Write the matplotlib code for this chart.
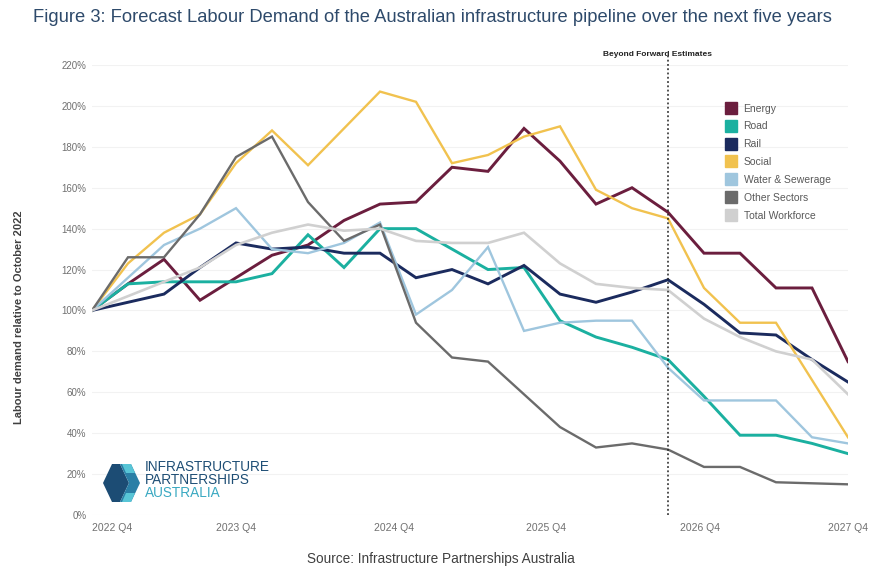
import matplotlib.pyplot as plt
import numpy as np
from matplotlib.lines import Line2D
from matplotlib.patches import Polygon

plt.rcParams['font.family'] = ['Liberation Sans', 'DejaVu Sans']

# quarterly points, 2022 Q4 .. 2027 Q4 (22 points as drawn in the source)
quarters = np.arange(22)

energy = [100, 113, 125, 105, 116, 127, 132, 144, 152, 153, 170, 168,
          189, 173, 152, 160, 148, 128, 128, 111, 111, 75]
road = [100, 113, 114, 114, 114, 118, 137, 121, 140, 140, 130, 120,
        121, 95, 87, 82, 76, 58, 39, 39, 35, 30]
rail = [100, 104, 108, 121, 133, 130, 131, 128, 128, 116, 120, 113,
        122, 108, 104, 109, 115, 103, 89, 88, 76, 65]
social = [100, 123, 138, 147, 172, 188, 171, 189, 207, 202, 172, 176,
          185, 190, 159, 150, 145, 111, 94, 94, 66, 38]
water = [100, 116, 132, 140, 150, 130, 128, 133, 143, 98, 110, 131,
         90, 94, 95, 95, 72, 56, 56, 56, 38, 35]
other = [100, 126, 126, 147, 175, 185, 153, 134, 142, 94, 77, 75,
         59, 43, 33, 35, 32, 23.5, 23.5, 16, 15.5, 15]
total = [100, 107, 114, 121, 132, 138, 142, 139, 140, 134, 133, 133,
         138, 123, 113, 111, 110, 96, 87, 80, 76, 59]

series_names = ['Energy', 'Road', 'Rail', 'Social', 'Water & Sewerage',
                'Other Sectors', 'Total Workforce']
series_data = [energy, road, rail, social, water, other, total]
series_colors = ['#6B1E3E', '#1BB0A0', '#1B2B5E', '#F1C24F', '#9FC6DE',
                 '#6B6B6B', '#D0D0D0']
series_widths = [2.1, 2.1, 2.1, 1.7, 1.7, 1.7, 1.9]

tick_pos = [0, 4.0, 8.4, 12.6, 16.9, 21]
tick_labels = ['2022 Q4', '2023 Q4', '2024 Q4', '2025 Q4', '2026 Q4', '2027 Q4']
forward_limit = 16

W, H = 872, 569
fig = plt.figure(figsize=(W / 100, H / 100), dpi=100)
fig.set_facecolor('white')

ax = fig.add_axes([92 / W, 1 - 515 / H, 756 / W, 450 / H])
ax.set_xlim(0, 21)
ax.set_ylim(0, 220)

draw_order = [6, 4, 5, 3, 1, 2, 0]
for i in draw_order:
    ax.plot(quarters, series_data[i], color=series_colors[i],
            lw=series_widths[i], solid_joinstyle='miter', zorder=2 + i * 0.01)

ax.axvline(forward_limit, ymin=0, ymax=1.02, color='#222222', lw=1.1,
           ls=(0, (1.2, 1.6)), clip_on=False, zorder=3)
ax.text(forward_limit - 0.3, 223.5, 'Beyond Forward Estimates', ha='center',
        va='bottom', fontsize=6, fontweight='bold', color='#222222')

ax.set_yticks(np.arange(0, 221, 20))
ax.set_yticklabels([f'{v}%' for v in range(0, 221, 20)])
ax.set_xticks(tick_pos)
ax.set_xticklabels(tick_labels)
ax.get_xticklabels()[0].set_ha('left')
ax.tick_params(axis='y', length=0, labelsize=7, labelcolor='#707070', pad=4)
ax.tick_params(axis='x', length=0, labelsize=7.5, labelcolor='#707070', pad=6)
ax.grid(axis='y', color='#F2F2F2', lw=0.8)
ax.set_axisbelow(True)
for s in ax.spines.values():
    s.set_visible(False)

ax.set_ylabel('Labour demand relative to October 2022', fontsize=8,
              fontweight='bold', color='#404040')
ax.yaxis.set_label_coords(-0.09, 0.44)

handles = [Line2D([], [], ls='none', marker='s', markersize=9,
                  markerfacecolor=c, markeredgecolor=c) for c in series_colors]
ax.legend(handles, series_names, loc='upper left',
          bbox_to_anchor=(0.826, 0.935), frameon=False, fontsize=7.5,
          labelcolor='#595959', labelspacing=0.75, handletextpad=0.7,
          handlelength=1.0)

fig.text(33 / W, 1 - 18 / H,
         'Figure 3: Forecast Labour Demand of the Australian infrastructure '
         'pipeline over the next five years',
         ha='left', va='center', fontsize=13.2, color='#2E4A6B')
fig.text(441 / W, 1 - 559 / H, 'Source: Infrastructure Partnerships Australia',
         ha='center', va='center', fontsize=9.8, color='#404040')

# logo overlay in pixel coordinates
lg = fig.add_axes([0, 0, 1, 1], facecolor='none')
lg.set_xlim(0, W)
lg.set_ylim(H, 0)
lg.axis('off')
lg.add_patch(Polygon([(103, 483), (112, 464), (120, 464), (129, 483),
                      (120, 502), (112, 502)], closed=True,
                     color='#1C4C74', lw=0))
lg.add_patch(Polygon([(120, 464), (131, 464), (140, 483), (131, 502),
                      (120, 502), (129, 483)], closed=True,
                     color='#2A7FA6', lw=0))
lg.add_patch(Polygon([(122, 464), (131, 464), (135, 473), (126, 473)],
                     closed=True, color='#58C5D6', lw=0))
lg.add_patch(Polygon([(126, 493), (135, 493), (131, 502), (122, 502)],
                     closed=True, color='#58C5D6', lw=0))
lg.text(145, 467, 'INFRASTRUCTURE', fontsize=9.8, color='#1E4E75',
        va='center', ha='left')
lg.text(145, 480, 'PARTNERSHIPS', fontsize=9.8, color='#1E4E75',
        va='center', ha='left')
lg.text(145, 493, 'AUSTRALIA', fontsize=9.8, color='#3AA9C2',
        va='center', ha='left')

fig.savefig('out.png', dpi=100)
